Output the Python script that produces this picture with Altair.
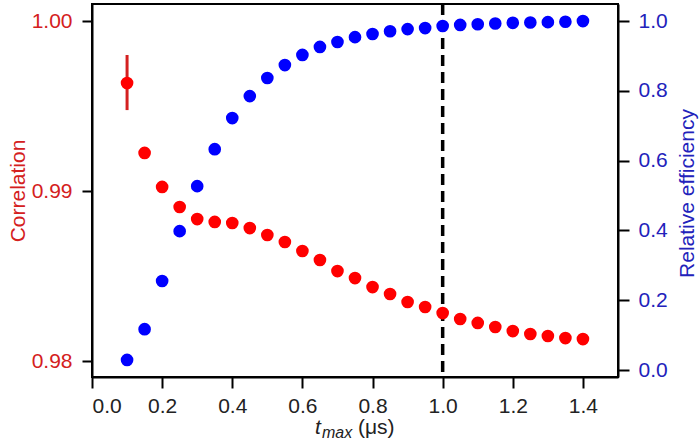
import altair as alt
import pandas as pd

t_max = [0.10, 0.15, 0.20, 0.25, 0.30, 0.35, 0.40, 0.45, 0.50, 0.55, 0.60, 0.65, 0.70,
         0.75, 0.80, 0.85, 0.90, 0.95, 1.00, 1.05, 1.10, 1.15, 1.20, 1.25, 1.30, 1.35, 1.40]
correlation = [0.99635, 0.99224, 0.99024, 0.98906, 0.98835, 0.98818, 0.98812, 0.98782,
               0.98741, 0.98700, 0.98647, 0.98594, 0.98529, 0.98488, 0.98435, 0.98394,
               0.98347, 0.98318, 0.98282, 0.98247, 0.98224, 0.98200, 0.98176, 0.98159,
               0.98147, 0.98135, 0.98129]
efficiency = [0.029, 0.117, 0.255, 0.398, 0.527, 0.633, 0.722, 0.785, 0.837, 0.874,
              0.903, 0.926, 0.940, 0.954, 0.963, 0.971, 0.977, 0.980, 0.986, 0.989,
              0.991, 0.993, 0.995, 0.996, 0.997, 0.998, 1.000]
err_t = [0.10]
err_lo = [0.99476]
err_hi = [0.99800]
cutoff = [1.0]

x_ticks = [0.0, 0.2, 0.4, 0.6, 0.8, 1.0, 1.2, 1.4]
corr_ticks = [0.98, 0.99, 1.00]
eff_ticks = [0.0, 0.2, 0.4, 0.6, 0.8, 1.0]

FONT = "Liberation Sans"
FS = 21
RED = "#ff0000"
RED_TXT = "#d42020"
BLUE = "#0000ff"
BLUE_TXT = "#2222bb"

df = pd.DataFrame({"t": t_max, "corr": correlation, "eff": efficiency})
df_err = pd.DataFrame({"t": err_t, "lo": err_lo, "hi": err_hi})
df_cut = pd.DataFrame({"t": cutoff})

x_enc = alt.X("t:Q", scale=alt.Scale(domain=[0, 1.5], nice=False, zero=False),
              axis=alt.Axis(values=x_ticks, format=".1f", title=None, grid=False,
                            labelFontSize=FS, labelColor="#222", labelPadding=7,
                            tickSize=11, tickWidth=2, tickColor="black",
                            domainColor="black", domainWidth=2, labelFont=FONT))

corr_scale = alt.Scale(domain=[0.97906, 1.001], nice=False, zero=False)
corr_axis = alt.Axis(values=corr_ticks, format=".2f", title="Correlation", grid=False,
                     orient="left", labelFontSize=FS, labelColor=RED_TXT, labelPadding=10,
                     tickSize=10, tickWidth=2, tickColor="black", domainColor="black",
                     domainWidth=2, titleColor=RED_TXT, titleFontSize=FS,
                     titleFontWeight="normal", titlePadding=3, labelFont=FONT, titleFont=FONT)
eff_scale = alt.Scale(domain=[-0.02, 1.049], nice=False, zero=False)
eff_axis = alt.Axis(values=eff_ticks, format=".1f", title="Relative efficiency", grid=False,
                    orient="right", labelFontSize=FS, labelColor=BLUE_TXT, labelPadding=9,
                    tickSize=11, tickWidth=2, tickColor="black", domainColor="black",
                    domainWidth=2, titleColor=BLUE_TXT, titleFontSize=FS, titleAngle=270,
                    titleX=69, titleY=189, titleAlign="center", titleBaseline="middle",
                    titleFontWeight="normal", labelFont=FONT, titleFont=FONT)

cut_rule = alt.Chart(df_cut).mark_rule(color="black", strokeWidth=3.5, strokeDash=[11, 6]).encode(
    x=x_enc)
err_rule = alt.Chart(df_err).mark_rule(color="#d42020", strokeWidth=3).encode(
    x=x_enc, y=alt.Y("lo:Q", scale=corr_scale, axis=corr_axis), y2="hi:Q")
red_pts = alt.Chart(df).mark_circle(color=RED, size=160, opacity=1).encode(
    x=x_enc, y=alt.Y("corr:Q", scale=corr_scale, axis=corr_axis))
left = alt.layer(cut_rule, err_rule, red_pts)

blue_pts = alt.Chart(df).mark_circle(color=BLUE, size=160, opacity=1).encode(
    x=x_enc, y=alt.Y("eff:Q", scale=eff_scale, axis=eff_axis))

title_df = pd.DataFrame({"a": [1]})
t_txt = alt.Chart(title_df).mark_text(text="t", font=FONT, fontSize=FS, fontStyle="italic",
                                      align="left", baseline="alphabetic", color="#222").encode(
    x=alt.value(223), y=alt.value(430))
max_txt = alt.Chart(title_df).mark_text(text="max", font=FONT, fontSize=16, fontStyle="italic",
                                        align="left", baseline="alphabetic", color="#222").encode(
    x=alt.value(230), y=alt.value(434))
unit_txt = alt.Chart(title_df).mark_text(text="(μs)", font=FONT, fontSize=FS,
                                         align="left", baseline="alphabetic", color="#222").encode(
    x=alt.value(266), y=alt.value(430))

chart = alt.layer(left, blue_pts, t_txt, max_txt, unit_txt).resolve_scale(
    y="independent").properties(
    width=526, height=373,
    padding={"left": 92, "top": 4, "right": 82, "bottom": 65},
    autosize=alt.AutoSizeParams(type="none"),
    background="white",
).configure_view(stroke="black", strokeWidth=2)

chart.save("out.html", embed_options={"renderer": "svg", "actions": False})
